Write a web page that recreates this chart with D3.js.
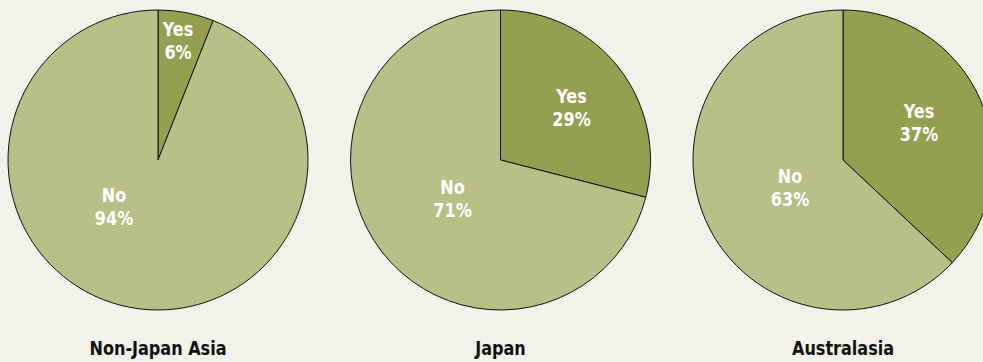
<!DOCTYPE html>
<html>
<head>
<meta charset="utf-8">
<script src="https://cdn.jsdelivr.net/npm/d3@7"></script>
<style>
  html, body { margin: 0; padding: 0; background: #f2f2ea; }
  svg { display: block; }
  text { font-family: "Liberation Sans Narrow", "DejaVu Sans Condensed", "Liberation Sans", sans-serif; font-weight: bold; }
</style>
</head>
<body>
<svg id="chart" width="983" height="362"></svg>
<script>
// Survey answers by region (percent of respondents)
const regions = ["Non-Japan Asia", "Japan", "Australasia"];
const answers = ["Yes", "No"];
const yesValues = [6, 29, 37];
const noValues = [94, 71, 63];

// Label anchor offsets from each pie centre (first-line baseline), per answer
const labelOffsets = [
  { Yes: [20, -124], No: [-44, 42] },
  { Yes: [71, -57],  No: [-48, 34] },
  { Yes: [76, -42],  No: [-53, 23] }
];

const width = 983, height = 362;
const radius = 150, cy = 160;
const squeeze = 0.94; // horizontal text compression for a condensed look

const svg = d3.select("#chart");

const x = d3.scalePoint().domain(regions).range([158, 843]);
const color = d3.scaleOrdinal().domain(answers).range(["#959f50", "#b8bf87"]);

const pie = d3.pie()
  .sort(null)
  .value(d => d.value)
  .startAngle(0)
  .endAngle(2 * Math.PI);

const arc = d3.arc().innerRadius(0).outerRadius(radius);

regions.forEach((region, i) => {
  const data = [
    { answer: "Yes", value: yesValues[i] },
    { answer: "No", value: noValues[i] }
  ];
  const g = svg.append("g").attr("transform", `translate(${x(region)},${cy})`);

  g.selectAll("path")
    .data(pie(data))
    .join("path")
    .attr("d", arc)
    .attr("fill", d => color(d.data.answer))
    .attr("stroke", "#111")
    .attr("stroke-width", 1)
    .attr("stroke-linejoin", "round");

  g.selectAll("text.lbl")
    .data(data)
    .join("text")
    .attr("class", "lbl")
    .attr("fill", "#ffffff")
    .attr("font-size", 19)
    .attr("text-anchor", "middle")
    .attr("transform", d => {
      const o = labelOffsets[i][d.answer];
      return `translate(${o[0]},${o[1]}) scale(${squeeze},1)`;
    })
    .each(function (d) {
      const t = d3.select(this);
      t.append("tspan").attr("x", 0).attr("y", 0).text(d.answer);
      t.append("tspan").attr("x", 0).attr("y", 23).text(d.value + "%");
    });

  svg.append("text")
    .attr("transform", `translate(${x(region)},355) scale(${squeeze},1)`)
    .attr("text-anchor", "middle")
    .attr("font-size", 19)
    .attr("fill", "#111")
    .text(region);
});
</script>
</body>
</html>
